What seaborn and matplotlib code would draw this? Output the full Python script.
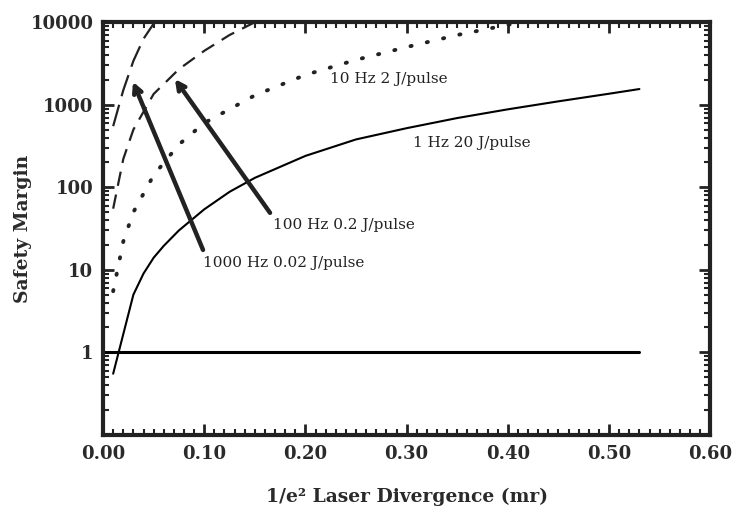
import numpy as np
import pandas as pd
import matplotlib
matplotlib.use("Agg")
import matplotlib.pyplot as plt
import matplotlib.ticker as mticker
import seaborn as sns

# ---- data ----
x_1hz = [0.01, 0.03, 0.04, 0.05, 0.06, 0.075, 0.10, 0.125, 0.15, 0.20, 0.25, 0.30, 0.35, 0.40, 0.45, 0.50, 0.53]
y_1hz = [0.55, 5, 9, 14, 19.5, 30, 54, 88, 130, 240, 380, 520, 690, 880, 1100, 1360, 1550]

x_10hz = [0.01, 0.02, 0.03, 0.05, 0.075, 0.10, 0.15, 0.20, 0.25, 0.30, 0.35, 0.40, 0.43]
y_10hz = [5.5, 22, 50, 140, 330, 600, 1300, 2300, 3500, 5000, 7000, 9300, 10800]

x_100hz = [0.01, 0.02, 0.03, 0.05, 0.075, 0.10, 0.125, 0.15, 0.16]
y_100hz = [55, 220, 500, 1350, 2700, 4500, 7000, 10000, 11000]

x_1000hz = [0.01, 0.02, 0.03, 0.04, 0.05, 0.055]
y_1000hz = [550, 1500, 3400, 6300, 9600, 11500]

x_unity = [0.0, 0.53]
y_unity = [1, 1]

labels = ["1 Hz 20 J/pulse", "10 Hz 2 J/pulse", "100 Hz 0.2 J/pulse", "1000 Hz 0.02 J/pulse"]
xticks = [0.0, 0.1, 0.2, 0.3, 0.4, 0.5, 0.6]
yticks = [1, 10, 100, 1000, 10000]

sns.set_style("ticks")
plt.rcParams["font.family"] = ["DejaVu Serif", "DejaVu Sans"]

fig = plt.figure(figsize=(7.36, 5.17), dpi=100)
ax = fig.add_axes([0.140, 0.159, 0.825, 0.798])

sns.lineplot(x=x_1hz, y=y_1hz, ax=ax, color="black", lw=1.5)
sns.lineplot(x=x_10hz, y=y_10hz, ax=ax, color="#222222", lw=2.8)
ax.lines[-1].set_dashes((0.3, 4.0))
ax.lines[-1].set_dash_capstyle("round")
sns.lineplot(x=x_100hz, y=y_100hz, ax=ax, color="#222222", lw=1.6)
ax.lines[-1].set_dashes((6.5, 4))
sns.lineplot(x=x_1000hz, y=y_1000hz, ax=ax, color="#222222", lw=1.6)
ax.lines[-1].set_dashes((10, 4))
sns.lineplot(x=x_unity, y=y_unity, ax=ax, color="black", lw=2.2)

ax.set_yscale("log")
ax.set_xlim(0, 0.6)
ax.set_ylim(0.1, 10000)
ax.set_xticks(xticks)
ax.xaxis.set_major_formatter(mticker.FormatStrFormatter("%.2f"))
ax.xaxis.set_minor_locator(mticker.MultipleLocator(0.01))
ax.set_yticks(yticks)
ax.set_yticklabels([str(v) for v in yticks])
ax.yaxis.set_minor_locator(mticker.LogLocator(base=10, subs=np.arange(2, 10)))
ax.yaxis.set_minor_formatter(mticker.NullFormatter())

ax.tick_params(which="both", direction="in", top=True, right=True, colors="#222222")
ax.tick_params(which="major", length=8, width=2, labelsize=13, pad=7)
ax.tick_params(which="minor", length=4, width=1.5)
for lab in ax.get_xticklabels() + ax.get_yticklabels():
    lab.set_fontweight("bold")
    lab.set_color("#2a2a2a")
for sp in ax.spines.values():
    sp.set_linewidth(3)
    sp.set_color("#222222")

ax.set_xlabel("1/e\u00b2 Laser Divergence (mr)", fontsize=13.5, fontweight="bold",
              color="#2a2a2a", labelpad=18)
ax.set_ylabel("Safety Margin", fontsize=13.5, fontweight="bold", color="#2a2a2a", labelpad=-1)

tkw = dict(fontsize=11, color="#222222", va="center", ha="left")
ax.text(0.224, 2050, labels[1], **tkw)
ax.text(0.306, 340, labels[0], **tkw)
ax.text(0.168, 35, labels[2], **tkw)
ax.text(0.099, 12, labels[3], **tkw)

astyle = "->,head_length=0.55,head_width=0.28"
ax.annotate("", xy=(0.0296, 1900), xytext=(0.0988, 17.4),
            arrowprops=dict(arrowstyle=astyle, lw=3.2, color="#222222", shrinkA=0, shrinkB=0))
ax.annotate("", xy=(0.071, 2050), xytext=(0.165, 49),
            arrowprops=dict(arrowstyle=astyle, lw=3.2, color="#222222", shrinkA=0, shrinkB=0))

fig.savefig("out.png", dpi=100, facecolor="white")
